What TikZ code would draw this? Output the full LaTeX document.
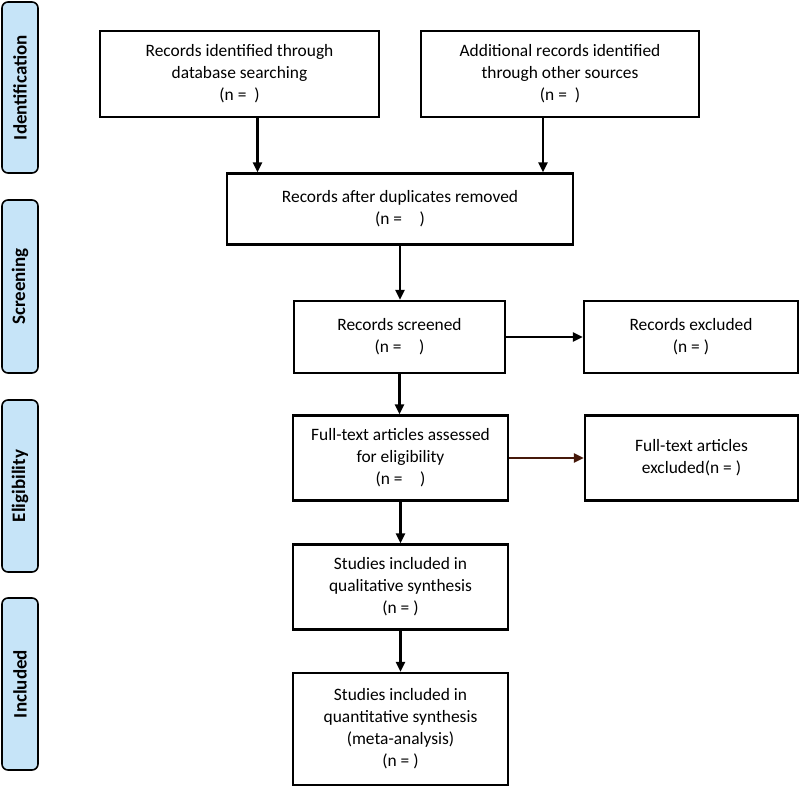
\documentclass[tikz,border=0pt]{standalone}
\usepackage{fontspec}
\setmainfont{Carlito}
\usetikzlibrary{arrows.meta}
\definecolor{phase}{RGB}{198,228,248}
\definecolor{brownline}{RGB}{70,25,10}
\begin{document}
\begin{tikzpicture}[x=1pt,y=-1pt,
    box/.style={draw,line width=2.2pt,align=center,inner sep=0pt,
      font=\fontsize{17.4}{22}\selectfont},
    phasebar/.style={draw,line width=1.6pt,fill=phase,rounded corners=6pt,
      minimum height=36pt,rotate=90,inner sep=0pt,
      font=\fontsize{19}{22}\selectfont\bfseries},
    flow/.style={line width=2.2pt,-{Triangle[length=10pt,width=9pt]}}]
  \useasboundingbox (0,0) rectangle (800,786);
  % phase labels on the left
  \node[phasebar,minimum width=171pt] (idf) at (20,87.5) {Identification};
  \node[phasebar,minimum width=173pt] (scr) at (20,286.5) {Screening};
  \node[phasebar,minimum width=172pt] (elg) at (20,486) {Eligibility};
  \node[phasebar,minimum width=172pt] (inc) at (20,684) {Included};
  % boxes
  \node[box,minimum width=279pt,minimum height=86pt] (dbrec) at (239.5,74)
    {Records identified through\\database searching\\(n =\ \ )};
  \node[box,minimum width=278pt,minimum height=86pt] (otherrec) at (560,74)
    {Additional records identified\\through other sources\\(n =\ \ )};
  \node[box,minimum width=346pt,minimum height=71pt] (dup) at (400,209)
    {Records after duplicates removed\\(n =\quad)};
  \node[box,minimum width=211pt,minimum height=72pt] (screened) at (399.5,337)
    {Records screened\\(n =\quad)};
  \node[box,minimum width=214pt,minimum height=72pt] (recexcl) at (691,337)
    {Records excluded\\(n = )};
  \node[box,minimum width=215pt,minimum height=85pt] (fulltext) at (400.5,458)
    {Full-text articles assessed\\for eligibility\\(n =\quad)};
  \node[box,minimum width=213pt,minimum height=85pt] (ftexcl) at (691.5,458)
    {Full-text articles\\excluded(n = )};
  \node[box,minimum width=215pt,minimum height=85pt] (qual) at (400.5,587)
    {Studies included in\\qualitative synthesis\\(n = )};
  \node[box,minimum width=215pt,minimum height=112pt] (quant) at (400.5,729)
    {Studies included in\\quantitative synthesis\\(meta-analysis)\\(n = )};
  % arrows
  \draw[flow] ([xshift=18pt]dbrec.south) -- ([xshift=18pt]dbrec.south |- dup.north);
  \draw[flow] ([xshift=-17pt]otherrec.south) -- ([xshift=-17pt]otherrec.south |- dup.north);
  \draw[flow] (dup.south) -- (dup.south |- screened.north);
  \draw[flow] (screened) -- (recexcl);
  \draw[flow] (screened.south) -- (screened.south |- fulltext.north);
  \draw[flow,brownline] (fulltext) -- (ftexcl);
  \draw[flow] (fulltext.south) -- (fulltext.south |- qual.north);
  \draw[flow] (qual.south) -- (qual.south |- quant.north);
\end{tikzpicture}
\end{document}
